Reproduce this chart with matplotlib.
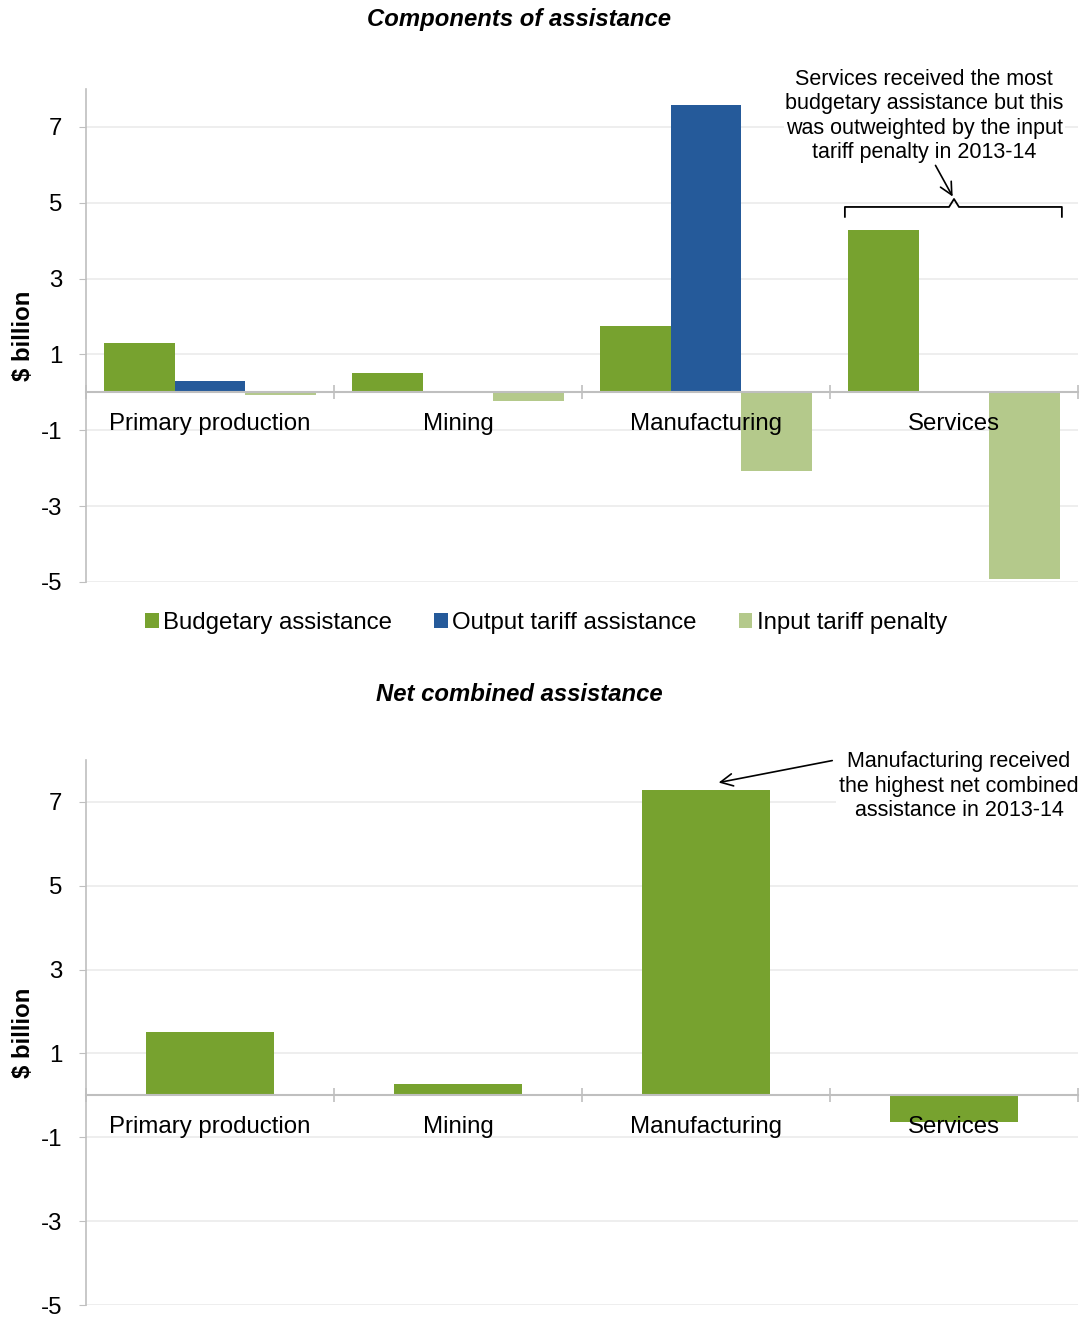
import numpy as np
import matplotlib
matplotlib.use("Agg")
import matplotlib.pyplot as plt

plt.rcParams['font.family'] = ['Liberation Sans', 'DejaVu Sans']

# data ($ billion, 2013-14)
categories = ['Primary production', 'Mining', 'Manufacturing', 'Services']
budgetary = [1.29, 0.50, 1.74, 4.29]
output_tariff = [0.29, 0.0, 7.58, 0.0]
input_penalty = [-0.08, -0.24, -2.08, -4.92]
net_combined = [1.52, 0.28, 7.29, -0.63]
series_names = ['Budgetary assistance', 'Output tariff assistance', 'Input tariff penalty']
yticks = [-5, -3, -1, 1, 3, 5, 7]

c_budget = '#77A22F'
c_output = '#255A9A'
c_input = '#B4C98B'
grid_c = '#EBEBEB'
spine_c = '#BFBFBF'
FS = 17.3

fig = plt.figure(figsize=(10.82, 13.17), dpi=100)
ax1 = fig.add_axes([0.0795, 0.5581, 0.9168, 0.3743])
ax2 = fig.add_axes([0.0795, 0.0091, 0.9168, 0.4138])


def style_axis(ax):
    ax.set_xlim(-0.5, len(categories) - 0.5)
    ax.set_ylim(-5, 8)
    ax.set_yticks(yticks)
    ax.set_yticklabels([str(t) for t in yticks], fontsize=FS)
    ax.yaxis.grid(True, color=grid_c, linewidth=1.2)
    ax.set_axisbelow(True)
    for s in ['top', 'right']:
        ax.spines[s].set_visible(False)
    ax.spines['left'].set_color(spine_c)
    ax.spines['left'].set_linewidth(1.2)
    ax.spines['bottom'].set_position(('data', 0))
    ax.spines['bottom'].set_color(spine_c)
    ax.spines['bottom'].set_linewidth(1.5)
    ax.spines['bottom'].set_zorder(4)
    ax.tick_params(axis='y', length=5, color=spine_c, pad=12)
    x = np.arange(len(categories))
    ax.set_xticks(x)
    ax.set_xticklabels(categories, fontsize=FS)
    ax.tick_params(axis='x', which='major', length=0, pad=15)
    ax.set_xticks(np.arange(len(categories) + 1) - 0.5, minor=True)
    ax.tick_params(axis='x', which='minor', length=10, direction='inout',
                   color=spine_c, width=1.2)
    ax.xaxis.set_zorder(4)
    ax.set_ylabel('$ billion', fontsize=FS, fontweight='bold', labelpad=4)


# ---- top: components ----
x = np.arange(len(categories))
w = 0.285
ax1.bar(x - w, budgetary, w, color=c_budget, label=series_names[0], zorder=3)
ax1.bar(x, output_tariff, w, color=c_output, label=series_names[1], zorder=3)
ax1.bar(x + w, input_penalty, w, color=c_input, label=series_names[2], zorder=3)
style_axis(ax1)

leg = ax1.legend(loc='upper center', bbox_to_anchor=(0.464, -0.017), ncol=3,
                 frameon=False, fontsize=FS, handlelength=0.55, handleheight=0.55,
                 handletextpad=0.2, columnspacing=1.75)

# bracket over services
bx0, bx1, bxm = 2.56, 3.435, 3.0
ax1.plot([bx0, bx0, bxm - 0.02, bxm, bxm + 0.02, bx1, bx1],
         [4.63, 4.89, 4.89, 5.1, 4.89, 4.89, 4.63],
         color='black', linewidth=1.3, zorder=4, clip_on=False)
ax1.annotate('', xy=(bxm, 5.1), xytext=(2.92, 6.05),
             arrowprops=dict(arrowstyle='->', color='black', lw=1.2,
                             mutation_scale=22))
ax1.text(2.88, 7.29, 'Services received the most\nbudgetary assistance but this\n'
         'was outweighted by the input\ntariff penalty in 2013-14',
         ha='center', va='center', fontsize=15.5, linespacing=1.2,
         bbox=dict(facecolor='white', edgecolor='none', pad=1), zorder=5,
         clip_on=False)

# ---- bottom: net combined ----
ax2.bar(x, net_combined, 0.52, color=c_budget, zorder=3)
style_axis(ax2)
ax2.annotate('', xy=(2.04, 7.45), xytext=(2.52, 8.0),
             arrowprops=dict(arrowstyle='->', color='black', lw=1.2,
                             mutation_scale=22))
ax2.text(3.02, 7.38, 'Manufacturing received\nthe highest net combined\nassistance in 2013-14',
         ha='center', va='center', fontsize=15.5, linespacing=1.2,
         bbox=dict(facecolor='white', edgecolor='none', pad=2), zorder=5)

fig.text(0.48, 0.9855, 'Components of assistance', ha='center', va='center',
         fontsize=17.2, fontweight='bold', fontstyle='italic')
fig.text(0.48, 0.4725, 'Net combined assistance', ha='center', va='center',
         fontsize=17.2, fontweight='bold', fontstyle='italic')

fig.savefig('out.png', dpi=100)
